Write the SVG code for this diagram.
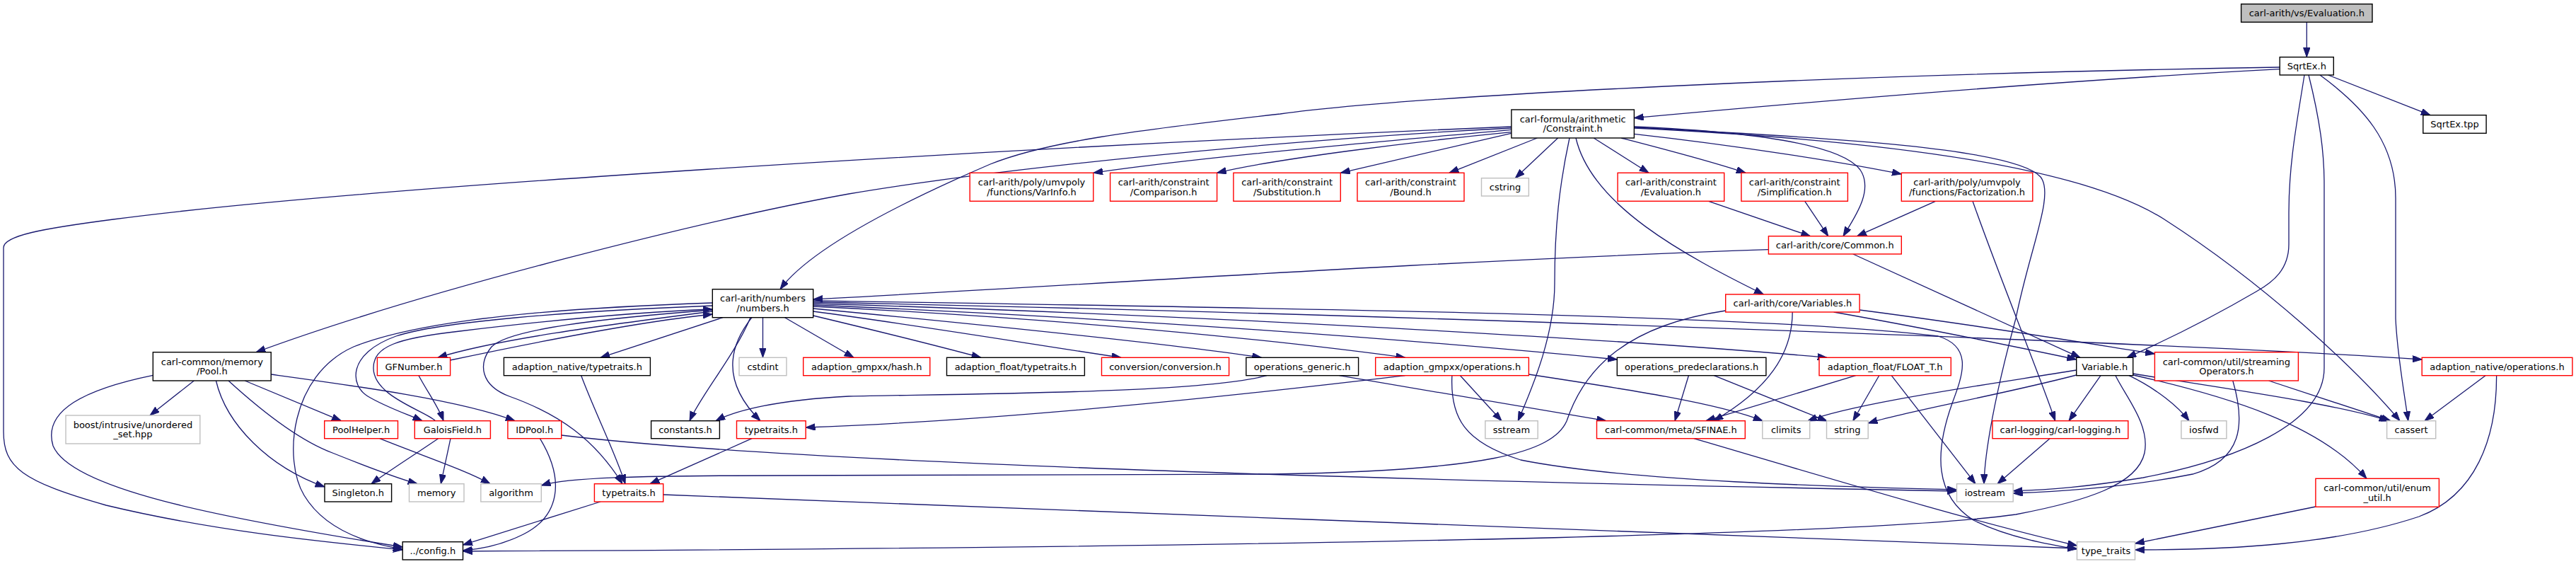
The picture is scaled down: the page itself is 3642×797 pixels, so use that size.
<svg xmlns="http://www.w3.org/2000/svg" width="3642" height="797" viewBox="0 0 3642 797">
<style>
text{font-family:"DejaVu Sans","Liberation Sans",sans-serif;font-size:13px;fill:#000;text-anchor:middle}
.n rect{fill:#fff;stroke:#000;stroke-width:1.4}
.r rect{fill:#fff;stroke:#ff0000;stroke-width:1.4}
.g rect{fill:#fff;stroke:#bfbfbf;stroke-width:1.4}
.root rect{fill:#bfbfbf;stroke:#000;stroke-width:1.4}
#edges path{fill:none;stroke:#191970;stroke-width:1.3;marker-end:url(#a)}
</style>
<defs>
<marker id="a" markerWidth="14" markerHeight="10" refX="13.3" refY="4.7" orient="auto" markerUnits="userSpaceOnUse"><path d="M0,0 L13.3,4.7 L0,9.4 z" fill="#191970" stroke="#191970" stroke-width="1"/></marker>
</defs>
<rect width="3642" height="797" fill="#fff"/>
<g id="edges">
<path d="M3261.3,31.3 L3261.3,80.7"/>
<path d="M3223.2,97.7 C2950,112 2600,140 2310.4,166.7"/>
<path d="M3223.2,95 C2600,105 2000,135 1810,161 C1600,185 1480,200 1400,232 C1300,275 1150,345 1103,408.7"/>
<path d="M3291.5,106 L3436,162.7"/>
<path d="M3258,106 C3248,170 3236,230 3236,300 L3236,345 C3236,380 3215,398 3190,412 C3130,447 3060,482 3007,505.3"/>
<path d="M3264,106 C3280,170 3286,215 3286,260 L3286,520 C3286,600 3160,650 3030,675 C2950,688 2900,692 2846.2,693.7"/>
<path d="M3280,106 C3340,150 3387,200 3387,280 L3387,450 C3389,500 3400,560 3404.7,594.7"/>
<path d="M2136.9,179 C1400,210 500,265 160,310 C60,323 5,333 5,350 L5,610 C5,660 30,680 150,714 C300,750 450,765 569.2,777"/>
<path d="M2136.9,181 C1800,198 1400,240 1200,274 C1000,310 600,410 362,497.7"/>
<path d="M2136.9,183.3 C1900,205 1700,222 1545.8,244.3"/>
<path d="M2136.9,186.7 C2000,200 1800,225 1720.5,244.3"/>
<path d="M2136.9,188.3 L1895.3,244.3"/>
<path d="M2173.4,195 L2049,244.3"/>
<path d="M2202.6,195 L2142.3,251.7"/>
<path d="M2219,195 C2205,260 2198,320 2198,400 C2198,470 2170,540 2146.2,594.7"/>
<path d="M2228,195 C2250,290 2380,360 2493.4,416"/>
<path d="M2253.2,195 L2331,244.3"/>
<path d="M2292,195 C2350,210 2420,228 2468,244.3"/>
<path d="M2310.4,189.3 C2450,205 2600,228 2688.3,246"/>
<path d="M2310.4,179 C2450,185 2600,200 2630,240 C2650,270 2620,310 2606,333.7"/>
<path d="M2310.4,180 C2600,195 2850,210 2885,250 C2905,275 2870,350 2850,450 C2820,560 2806,640 2805,683.7"/>
<path d="M2310.4,181 C2700,200 2950,240 3060,310 C3200,400 3330,520 3393,594.7"/>
<path d="M2592.6,441 C2700,460 2850,490 2935.7,508"/>
<path d="M2629.1,438 C2800,460 2950,485 3046.4,500"/>
<path d="M2534.2,441 C2534,500 2500,550 2423,594.7"/>
<path d="M2439.7,439 C2300,460 2240,520 2215,595 C2195,640 2100,665 1800,670 L1100,672 C900,672 800,675 765.3,686"/>
<path d="M2500.4,352.7 C2000,370 1500,405 1149.7,423"/>
<path d="M2619.8,359 L2941,505.3"/>
<path d="M2415.6,284.3 L2559.5,333.7"/>
<path d="M2551.7,284.3 L2584.8,333.7"/>
<path d="M2736.5,284.3 L2625.6,333.7"/>
<path d="M2789,284.3 C2830,400 2880,520 2905.7,594.7"/>
<path d="M1007.3,440 C850,460 700,480 619,505.3"/>
<path d="M636.6,509 C750,485 900,455 1007.3,444"/>
<path d="M1007.3,432 C800,440 620,455 560,475 C490,500 495,545 520,560 C545,575 575,585 597,594.7"/>
<path d="M615.6,594.7 C600,580 528,560 528,520 C528,490 560,478 650,468 C800,450 920,440 1007.3,437"/>
<path d="M1007.3,428 C800,435 600,450 500,490 C410,530 400,650 430,700 C460,750 520,768 569.2,776"/>
<path d="M1022,448.7 L849,505.3"/>
<path d="M1007.3,438 C850,450 720,465 695,490 C675,515 680,545 720,560 C790,585 840,620 880,683.7"/>
<path d="M821.7,530.7 C840,580 870,640 884,683.7"/>
<path d="M1063,619.7 L919,683.7"/>
<path d="M1061,448.7 C1040,500 990,560 975,594.7"/>
<path d="M1063,448.7 C1030,490 1020,540 1075,594.7"/>
<path d="M1078.5,448.7 L1078.5,505.3"/>
<path d="M1109.6,448.7 L1207,505.3"/>
<path d="M1149.7,446 C1250,470 1330,490 1387,505.3"/>
<path d="M1149.7,440 C1300,460 1450,485 1585,505.3"/>
<path d="M1149.7,436 C1400,460 1650,485 1783.5,505.3"/>
<path d="M1149.7,433 C1500,450 1800,480 1986.7,505.3"/>
<path d="M1149.7,431 C1600,450 2000,480 2286.3,508"/>
<path d="M1149.7,429 C1700,445 2300,480 2583,505.3"/>
<path d="M1149.7,427 C1800,440 3000,480 3424.2,508"/>
<path d="M1149.7,425 C1800,435 2500,445 2740,475 C2790,490 2775,530 2760,570 C2735,640 2735,700 2790,735 C2840,760 2900,770 2936.5,776"/>
<path d="M274.3,538 L212,587"/>
<path d="M216.3,530.3 C120,550 60,580 75,630 C100,690 300,730 569.2,773"/>
<path d="M305.4,538 C320,600 380,660 459,688"/>
<path d="M323,538 C380,590 430,625 470,640 C520,660 560,675 590,683.7"/>
<path d="M346.2,538 L482.4,594.7"/>
<path d="M383.2,529 C500,545 650,565 728,594.7"/>
<path d="M536.8,619.7 C600,645 660,665 693,683.7"/>
<path d="M619.5,619.7 C590,640 550,665 525,683.7"/>
<path d="M637,619.7 L623.3,683.7"/>
<path d="M592,530.7 C605,555 620,575 627,594.7"/>
<path d="M763.4,619.7 C800,680 790,730 740,755 C710,770 680,776 654.5,778"/>
<path d="M793.7,615 C1000,640 1500,670 2766.5,694"/>
<path d="M937.7,699 C1500,720 2500,760 2936.5,775"/>
<path d="M849,709 L654.5,770"/>
<path d="M1791,530.7 C1700,555 1400,556 1200,560 C1100,565 1040,580 1012,594.7"/>
<path d="M1893.4,530.7 L2270.7,594.7"/>
<path d="M1986.7,530.7 C1700,565 1400,595 1139.2,604"/>
<path d="M2064.5,530.7 L2123,594.7"/>
<path d="M2052.9,530.7 C2050,590 2070,625 2150,650 C2300,680 2600,688 2766.5,692"/>
<path d="M2161.4,529 C2300,550 2430,570 2492,594.7"/>
<path d="M2387.4,530.7 L2368,594.7"/>
<path d="M2423.3,530.7 L2583,595"/>
<path d="M2623.7,530.7 L2411.7,594.7"/>
<path d="M2656.7,530.7 L2619.8,594.7"/>
<path d="M2674.2,530.7 L2793,683.7"/>
<path d="M2935.7,523 C2800,545 2620,570 2555.6,595"/>
<path d="M2935.7,530 C2820,560 2700,580 2641.2,598"/>
<path d="M2970,530.7 L2925,594.7"/>
<path d="M2898,619.7 L2824,683.7"/>
<path d="M2395,619.7 C2600,680 2800,740 2936.5,771"/>
<path d="M3010,530.7 C3050,550 3080,575 3095,594.7"/>
<path d="M3016,528 C3150,550 3300,570 3377,594.7"/>
<path d="M3207.6,538 L3380,594.7"/>
<path d="M3016,530 C3150,560 3280,600 3346,676.3"/>
<path d="M3514,530.7 L3428,594.7"/>
<path d="M3529.6,530.7 C3530,620 3500,700 3420,730 C3300,770 3150,777 3018.5,777"/>
<path d="M3273.9,716 L3018.5,768"/>
<path d="M3156.8,538 C3175,600 3170,650 3100,670 C3000,690 2900,695 2846.2,697"/>
<path d="M2991,530.7 C3005,560 3040,600 3032,640 C3022,685 2950,708 2850,727 C2600,762 1500,775 654.5,779"/>
</g>
<g id="n_eval_vs" class="root"><rect x="3168.6" y="5.7" width="185.4" height="25.6"/><text x="3261.3" y="23">carl-arith/vs/Evaluation.h</text></g>
<g id="n_sqrtex" class="n"><rect x="3223.2" y="80.7" width="76.1" height="25.3"/><text x="3261.3" y="97.8">SqrtEx.h</text></g>
<g id="n_tpp" class="n"><rect x="3425.8" y="162.7" width="89.3" height="25.6"/><text x="3470.5" y="180">SqrtEx.tpp</text></g>
<g id="n_constraint" class="n"><rect x="2136.9" y="155" width="173.5" height="40"/><text x="2223.7" y="172.7">carl-formula/arithmetic</text><text x="2223.7" y="186.2">/Constraint.h</text></g>
<g id="n_varinfo" class="r"><rect x="1371.2" y="244.3" width="174.6" height="40"/><text x="1458.5" y="262">carl-arith/poly/umvpoly</text><text x="1458.5" y="275.5">/functions/VarInfo.h</text></g>
<g id="n_comparison" class="r"><rect x="1569.6" y="244.3" width="151" height="40"/><text x="1645.1" y="262">carl-arith/constraint</text><text x="1645.1" y="275.5">/Comparison.h</text></g>
<g id="n_substitution" class="r"><rect x="1743.9" y="244.3" width="151.4" height="40"/><text x="1819.6" y="262">carl-arith/constraint</text><text x="1819.6" y="275.5">/Substitution.h</text></g>
<g id="n_bound" class="r"><rect x="1919" y="244.3" width="151" height="40"/><text x="1994.5" y="262">carl-arith/constraint</text><text x="1994.5" y="275.5">/Bound.h</text></g>
<g id="n_cstring" class="g"><rect x="2094.5" y="251.7" width="66.9" height="25.3"/><text x="2128" y="268.8">cstring</text></g>
<g id="n_evaluation" class="r"><rect x="2287.1" y="244.3" width="150.6" height="40"/><text x="2362.4" y="262">carl-arith/constraint</text><text x="2362.4" y="275.5">/Evaluation.h</text></g>
<g id="n_simplification" class="r"><rect x="2461.9" y="244.3" width="150.5" height="40"/><text x="2537.2" y="262">carl-arith/constraint</text><text x="2537.2" y="275.5">/Simplification.h</text></g>
<g id="n_factorization" class="r"><rect x="2688.3" y="244.3" width="185.5" height="40"/><text x="2781" y="262">carl-arith/poly/umvpoly</text><text x="2781" y="275.5">/functions/Factorization.h</text></g>
<g id="n_common" class="r"><rect x="2500.4" y="333.7" width="187.9" height="25.3"/><text x="2594.3" y="350.8">carl-arith/core/Common.h</text></g>
<g id="n_numbers" class="n"><rect x="1007.3" y="408.7" width="142.4" height="40"/><text x="1078.5" y="426.4">carl-arith/numbers</text><text x="1078.5" y="439.9">/numbers.h</text></g>
<g id="n_variables" class="r"><rect x="2439.7" y="416" width="189.4" height="25"/><text x="2534.4" y="433">carl-arith/core/Variables.h</text></g>
<g id="n_pool" class="n"><rect x="216.3" y="497.7" width="166.9" height="40.3"/><text x="299.8" y="515.5">carl-common/memory</text><text x="299.8" y="529">/Pool.h</text></g>
<g id="n_gfnumber" class="r"><rect x="533.4" y="505.3" width="103.2" height="25.4"/><text x="585" y="522.5">GFNumber.h</text></g>
<g id="n_nat_tt" class="n"><rect x="712.4" y="505.3" width="207" height="25.4"/><text x="815.9" y="522.5">adaption_native/typetraits.h</text></g>
<g id="n_cstdint" class="g"><rect x="1045" y="505.3" width="67" height="25.4"/><text x="1078.5" y="522.5">cstdint</text></g>
<g id="n_hash" class="r"><rect x="1135.7" y="505.3" width="179.1" height="25.4"/><text x="1225.3" y="522.5">adaption_gmpxx/hash.h</text></g>
<g id="n_float_tt" class="n"><rect x="1338.5" y="505.3" width="194.9" height="25.4"/><text x="1436" y="522.5">adaption_float/typetraits.h</text></g>
<g id="n_conversion" class="r"><rect x="1557.5" y="505.3" width="180.1" height="25.4"/><text x="1647.5" y="522.5">conversion/conversion.h</text></g>
<g id="n_opgeneric" class="n"><rect x="1761.8" y="505.3" width="158.8" height="25.4"/><text x="1841.2" y="522.5">operations_generic.h</text></g>
<g id="n_gmpops" class="r"><rect x="1944.7" y="505.3" width="216.7" height="25.4"/><text x="2053" y="522.5">adaption_gmpxx/operations.h</text></g>
<g id="n_opsprede" class="n"><rect x="2286.3" y="505.3" width="210.6" height="25.4"/><text x="2391.6" y="522.5">operations_predeclarations.h</text></g>
<g id="n_float_t" class="r"><rect x="2572" y="505.3" width="186.3" height="25.4"/><text x="2665.2" y="522.5">adaption_float/FLOAT_T.h</text></g>
<g id="n_variable" class="n"><rect x="2935.7" y="505.3" width="80" height="25.4"/><text x="2975.7" y="522.5">Variable.h</text></g>
<g id="n_streaming" class="r"><rect x="3046.4" y="497.7" width="203" height="40.3"/><text x="3147.9" y="515.5">carl-common/util/streaming</text><text x="3147.9" y="529">Operators.h</text></g>
<g id="n_nat_ops" class="r"><rect x="3424.2" y="505.3" width="212.7" height="25.4"/><text x="3530.5" y="522.5">adaption_native/operations.h</text></g>
<g id="n_boost" class="g"><rect x="93" y="587" width="189.8" height="40"/><text x="187.9" y="604.7">boost/intrusive/unordered</text><text x="187.9" y="618.2">_set.hpp</text></g>
<g id="n_poolhelper" class="r"><rect x="458.7" y="594.7" width="103.8" height="25"/><text x="510.6" y="611.7">PoolHelper.h</text></g>
<g id="n_galois" class="r"><rect x="586.3" y="594.7" width="107.1" height="25"/><text x="639.9" y="611.7">GaloisField.h</text></g>
<g id="n_idpool" class="r"><rect x="717.9" y="594.7" width="75.8" height="25"/><text x="755.8" y="611.7">IDPool.h</text></g>
<g id="n_constants" class="n"><rect x="920.6" y="594.7" width="96.8" height="25"/><text x="969" y="611.7">constants.h</text></g>
<g id="n_tt_upper" class="r"><rect x="1041.5" y="594.7" width="97.7" height="25"/><text x="1090.3" y="611.7">typetraits.h</text></g>
<g id="n_sstream" class="g"><rect x="2099.9" y="594.7" width="74.3" height="25"/><text x="2137" y="611.7">sstream</text></g>
<g id="n_sfinae" class="r"><rect x="2257.5" y="594.7" width="209.8" height="25"/><text x="2362.4" y="611.7">carl-common/meta/SFINAE.h</text></g>
<g id="n_climits" class="g"><rect x="2491.8" y="594.7" width="66.9" height="25"/><text x="2525.2" y="611.7">climits</text></g>
<g id="n_string" class="g"><rect x="2582.5" y="594.7" width="58.7" height="25"/><text x="2611.8" y="611.7">string</text></g>
<g id="n_logging" class="r"><rect x="2817" y="594.7" width="191.8" height="25"/><text x="2912.9" y="611.7">carl-logging/carl-logging.h</text></g>
<g id="n_iosfwd" class="g"><rect x="3083.9" y="594.7" width="64" height="25"/><text x="3115.9" y="611.7">iosfwd</text></g>
<g id="n_cassert" class="g"><rect x="3374.6" y="594.7" width="69.1" height="25"/><text x="3409.1" y="611.7">cassert</text></g>
<g id="n_singleton" class="n"><rect x="459" y="683.7" width="94.6" height="25.3"/><text x="506.3" y="700.8">Singleton.h</text></g>
<g id="n_memory" class="g"><rect x="578.5" y="683.7" width="77.5" height="25.3"/><text x="617.2" y="700.8">memory</text></g>
<g id="n_algorithm" class="g"><rect x="679.8" y="683.7" width="85.5" height="25.3"/><text x="722.5" y="700.8">algorithm</text></g>
<g id="n_tt_lower" class="r"><rect x="840.4" y="683.7" width="97.3" height="25.3"/><text x="889" y="700.8">typetraits.h</text></g>
<g id="n_iostream" class="g"><rect x="2766.5" y="683.7" width="79.7" height="25.3"/><text x="2806.3" y="700.8">iostream</text></g>
<g id="n_enum" class="r"><rect x="3273.9" y="676.3" width="174.5" height="40"/><text x="3361.1" y="694">carl-common/util/enum</text><text x="3361.1" y="707.5">_util.h</text></g>
<g id="n_config" class="n"><rect x="569.2" y="765.7" width="85.3" height="25.3"/><text x="611.8" y="782.8">../config.h</text></g>
<g id="n_type_traits" class="g"><rect x="2936.5" y="765.7" width="82" height="25.3"/><text x="2977.5" y="782.8">type_traits</text></g>
</svg>
